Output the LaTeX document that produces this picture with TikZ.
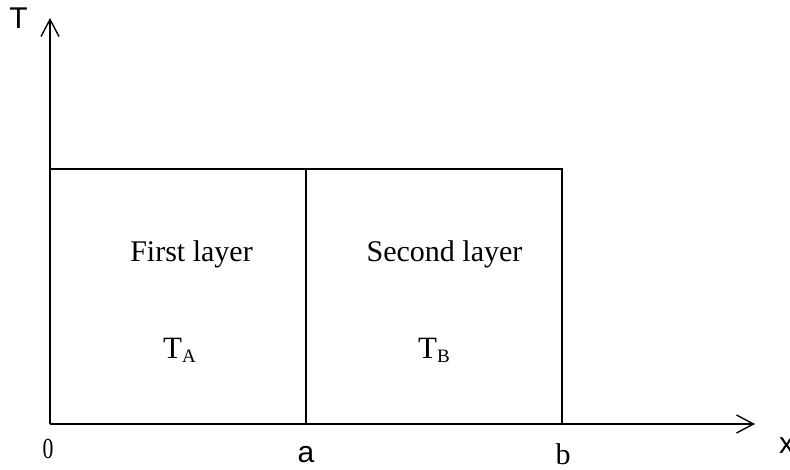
\documentclass[tikz,border=0pt]{standalone}
\usepackage{fontspec}
\setmainfont{Liberation Serif}
\newfontfamily\arialf{Liberation Sans}
\usetikzlibrary{arrows.meta}
\tikzset{
  axisline/.style={line width=1.4pt, -{Straight Barb[length=17pt,width=18pt,line width=1.4pt]}},
  boxline/.style={line width=1.4pt},
  sanslabel/.style={inner sep=0pt, font=\arialf\fontsize{30}{30}\selectfont},
  seriflabel/.style={inner sep=0pt, font=\fontsize{30}{30}\selectfont},
}
\begin{document}
\begin{tikzpicture}[x=1pt,y=-1pt]
\useasboundingbox[fill=white] (0,0) rectangle (790,470);
\coordinate (o) at (50,424);
\coordinate (ytip) at (50,18);
\coordinate (xtip) at (755,424);
\coordinate (tl) at (50,169);
\coordinate (ma) at (306,424);
\coordinate (mt) at (306,169);
\coordinate (mt2) at (328,169);
\coordinate (br) at (562,424);
\coordinate (tr) at (562,169);
% axes
\draw[axisline] (o) -- (ytip);
\draw[axisline] (o) -- (xtip);
% layers
\draw[boxline] (tl) -- (tr) -- (br);
\draw[boxline] (ma) -- (mt);
\draw[line width=2.4pt] (mt) -- (mt2);
% labels
\node[sanslabel] (tlab) at (18.5,18) {T};
\node[sanslabel, anchor=west] (xlab) at (779,446) {x};
\node[seriflabel] (zero) at (48,449) {\fontsize{29}{29}\selectfont\scalebox{0.75}[1]{0}};
\node[sanslabel] (alab) at (306,455) {a};
\node[seriflabel] (blab) at (563,454) {b};
\node[seriflabel] (first) at (191.5,254) {First layer};
\node[seriflabel] (second) at (444.5,254) {Second layer};
\node[inner sep=0pt, anchor=base west] (ta) at (163,359) {\fontsize{31}{31}\selectfont T\fontsize{19}{19}\selectfont\raisebox{-4pt}{A}};
\node[inner sep=0pt, anchor=base west] (tb) at (418,359) {\fontsize{31}{31}\selectfont T\fontsize{19}{19}\selectfont\raisebox{-4pt}{B}};
\end{tikzpicture}
\end{document}
